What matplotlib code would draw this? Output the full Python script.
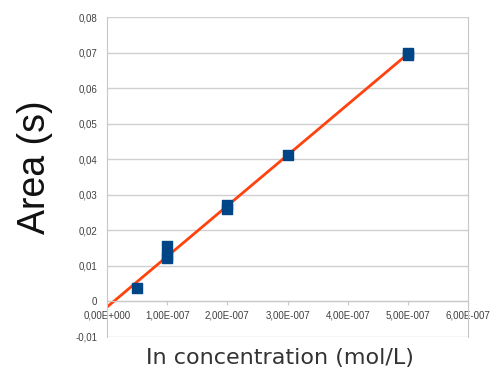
import numpy as np
import matplotlib.pyplot as plt
from matplotlib.ticker import FuncFormatter

plt.rcParams['font.family'] = ['Liberation Sans', 'DejaVu Sans']

# Calibration points
conc = [0.5e-7, 1e-7, 1e-7, 1e-7, 2e-7, 2e-7, 3e-7, 5e-7, 5e-7]
area = [0.0037, 0.0121, 0.0128, 0.0157, 0.0260, 0.0270, 0.0412, 0.0692, 0.0700]

xticks = [0, 1e-7, 2e-7, 3e-7, 4e-7, 5e-7, 6e-7]
yticks = [-0.01, 0, 0.01, 0.02, 0.03, 0.04, 0.05, 0.06, 0.07, 0.08]

# Linear trend line
slope, intercept = np.polyfit(conc, area, 1)
xfit = np.array([0, 5e-7])
yfit = slope * xfit + intercept

fig = plt.figure(figsize=(4.99, 3.78), dpi=100)
ax = fig.add_axes([0.2144, 0.1085, 0.7236, 0.8465])

ax.plot(xfit, yfit, color='#ff420e', lw=2, zorder=2)
ax.scatter(conc, area, marker='s', s=42, color='#004586', zorder=3)

ax.set_xlim(0, 6e-7)
ax.set_ylim(-0.01, 0.08)
ax.set_xticks(xticks)
ax.set_yticks(yticks)

def fmt_x(v, pos):
    if v == 0:
        return '0,00E+000'
    m, e = f'{v:.2E}'.split('E')
    return m.replace('.', ',') + 'E-' + e[1:].zfill(3)

def fmt_y(v, pos):
    if abs(v) < 1e-12:
        return '0'
    return f'{v:.2f}'.replace('.', ',')

ax.xaxis.set_major_formatter(FuncFormatter(fmt_x))
ax.yaxis.set_major_formatter(FuncFormatter(fmt_y))

ax.grid(axis='y', color='#d0d0d0', lw=1)
ax.set_axisbelow(True)
ax.spines['bottom'].set_position(('data', 0))
for s in ['left', 'right', 'bottom']:
    ax.spines[s].set_color('#c8c8c8')
ax.spines['top'].set_visible(False)
ax.tick_params(axis='both', labelsize=7, colors='#c8c8c8', labelcolor='#404040', length=3)
ax.tick_params(axis='y', length=0, pad=7)

ax.set_ylabel('Area (s)', fontsize=27, color='#111111')
ax.yaxis.set_label_coords(-0.15, 0.53)
ax.set_xlabel('In concentration (mol/L)', fontsize=16,
              family='DejaVu Sans', color='#333333')
ax.xaxis.set_label_coords(0.478, -0.035)

fig.savefig('out.png', dpi=100)
